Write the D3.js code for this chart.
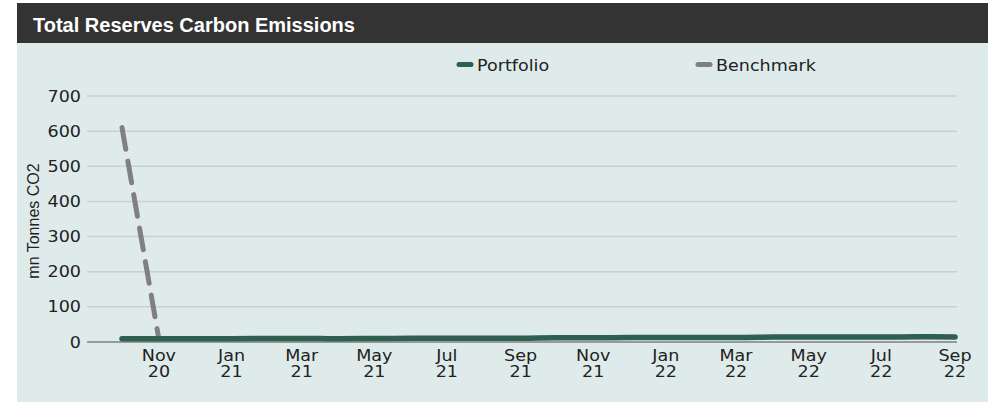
<!DOCTYPE html>
<html><head><meta charset="utf-8">
<script src="https://cdn.jsdelivr.net/npm/d3@7"></script>
<style>body{margin:0;background:#fff;}svg{display:block;}</style>
</head><body>
<svg id="chart" width="988" height="402"></svg>
<script>
const months = ["2020-10","2020-11","2020-12","2021-01","2021-02","2021-03","2021-04","2021-05","2021-06","2021-07","2021-08","2021-09","2021-10","2021-11","2021-12","2022-01","2022-02","2022-03","2022-04","2022-05","2022-06","2022-07","2022-08","2022-09"];
const portfolio = [9,9,9,9.5,10,10,9.5,10,10.5,11,11,11,12,12,12.5,12.5,13,13,14,14.5,14,14,15,14.5];
const benchmarkMonths = ["2020-10","2020-11"];
const benchmark = [610,8];
const yTicks = [0,100,200,300,400,500,600,700];
const xTickMonths = ["2020-11","2021-01","2021-03","2021-05","2021-07","2021-09","2021-11","2022-01","2022-03","2022-05","2022-07","2022-09"];
const seriesNames = ["Portfolio","Benchmark"];
const colors = ["#2e5f4f","#808080"];

const parse = d3.timeParse("%Y-%m");
const svg = d3.select("#chart");
const SX = 1.17;

function wideText(parent, tx, ty, str, anchor) {
  return parent.append("text")
    .attr("transform", `translate(${tx},${ty}) scale(${SX},1)`)
    .attr("text-anchor", anchor)
    .style("font-family","'DejaVu Sans',sans-serif").style("font-size","15px")
    .attr("fill","#222").text(str);
}

// panel
svg.append("rect").attr("x",17).attr("y",3).attr("width",971).attr("height",399).attr("fill","#dfebea");
svg.append("rect").attr("x",17).attr("y",3).attr("width",971).attr("height",40).attr("fill","#333333");
svg.append("text").attr("x",33).attr("y",32).attr("fill","#fff")
  .style("font-family","'Liberation Sans',Arial,sans-serif").style("font-weight","bold").style("font-size","20px")
  .text("Total Reserves Carbon Emissions");

const x = d3.scaleTime().domain([parse(months[0]), parse(months[months.length-1])]).range([122,955]);
const y = d3.scaleLinear().domain([0,700]).range([342,96]);
const left = 87, right = 957;

// gridlines
svg.append("g").selectAll("line").data(yTicks.filter(d=>d>0)).join("line")
  .attr("x1",left).attr("x2",right).attr("y1",d=>y(d)).attr("y2",d=>y(d))
  .attr("stroke","#cacfcf").attr("stroke-width",1.5);

// y tick labels
const yg = svg.append("g");
yTicks.forEach(v => wideText(yg, 81, y(v)+5.5, String(v), "end"));

// zero line
svg.append("line").attr("x1",left).attr("x2",right).attr("y1",y(0)).attr("y2",y(0)).attr("stroke","#4a4a4a").attr("stroke-width",1);

// x axis labels
const fmtM = d3.timeFormat("%b"), fmtY = d3.timeFormat("%y");
const xg = svg.append("g");
xTickMonths.forEach(m=>{
  const d = parse(m);
  wideText(xg, x(d), 361, fmtM(d), "middle");
  wideText(xg, x(d), 377, fmtY(d), "middle");
});

// y label
svg.append("text").attr("transform","translate(39,221) rotate(-90)").attr("text-anchor","middle")
  .style("font-family","'Liberation Sans',Arial,sans-serif").style("font-size","16px").attr("fill","#222")
  .text("mn Tonnes CO2");

const line = d3.line().x(d=>x(d.date)).y(d=>y(d.v)).curve(d3.curveMonotoneX);

// benchmark
svg.append("path").datum(benchmarkMonths.map((m,i)=>({date:parse(m),v:benchmark[i]})))
  .attr("d",d3.line().x(d=>x(d.date)).y(d=>y(d.v))).attr("fill","none").attr("stroke",colors[1])
  .attr("stroke-width",5).attr("stroke-linecap","round").attr("stroke-dasharray","22,12");

// portfolio
svg.append("path").datum(months.map((m,i)=>({date:parse(m),v:portfolio[i]})))
  .attr("d",line).attr("fill","none").attr("stroke",colors[0])
  .attr("stroke-width",5.5).attr("stroke-linecap","round");

// legend
const legX = [459,698];
const lg = svg.append("g");
seriesNames.forEach((n,i)=>{
  lg.append("line").attr("x1",legX[i]).attr("x2",legX[i]+12).attr("y1",64.5).attr("y2",64.5)
    .attr("stroke",colors[i]).attr("stroke-width",5).attr("stroke-linecap","round");
  wideText(lg, legX[i]+18, 70.5, n, "start");
});
</script>
</body></html>
